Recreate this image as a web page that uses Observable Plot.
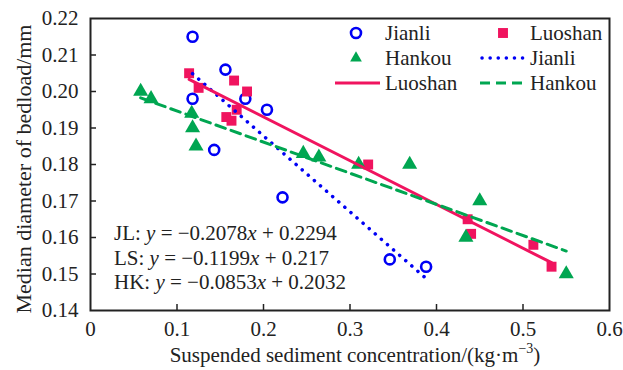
<!DOCTYPE html>
<html><head><meta charset="utf-8">
<script src="https://cdn.jsdelivr.net/npm/d3@7"></script>
<script src="https://cdn.jsdelivr.net/npm/@observablehq/plot@0.6"></script>
<style>
body{margin:0;background:#fff}
svg, svg text{font-family:"Liberation Serif","Times New Roman",serif !important}
</style>
</head><body><div id="chart"></div>
<script>
// ---- data ----
const jianliX = [0.118, 0.156, 0.118, 0.179, 0.204, 0.143, 0.222, 0.346, 0.388];
const jianliY = [0.215, 0.206, 0.198, 0.198, 0.195, 0.184, 0.171, 0.154, 0.152];
const luoshanX = [0.114, 0.125, 0.166, 0.181, 0.169, 0.157, 0.163, 0.321, 0.436, 0.440, 0.512, 0.533];
const luoshanY = [0.205, 0.201, 0.203, 0.200, 0.195, 0.193, 0.192, 0.180, 0.165, 0.161, 0.158, 0.152];
const hankouX = [0.058, 0.070, 0.117, 0.118, 0.122, 0.246, 0.264, 0.310, 0.369, 0.450, 0.434, 0.550];
const hankouY = [0.200, 0.198, 0.194, 0.190, 0.185, 0.183, 0.182, 0.180, 0.180, 0.170, 0.160, 0.150];
const fitNames = ["JL", "LS", "HK"];
const fitSlopes = [-0.2078, -0.1199, -0.0853];
const fitIntercepts = [0.2294, 0.217, 0.2032];
const fitSlopeText = ["0.2078", "0.1199", "0.0853"];
const fitInterceptText = ["0.2294", "0.217", "0.2032"];
const xTicks = [0, 0.1, 0.2, 0.3, 0.4, 0.5, 0.6];
const yTicks = [0.14, 0.15, 0.16, 0.17, 0.18, 0.19, 0.20, 0.21, 0.22];
const seriesNames = ["Jianli", "Luoshan", "Hankou"];

// ---- styles ----
const FONT = '"Liberation Serif","Times New Roman",serif';
const BLUE = "#0000F5", PINK = "#F0145F", GREEN = "#00A651";
const W = 623, H = 370, mL = 90, mR = 14, mT = 18, mB = 60;
const innerW = W - mL - mR, innerH = H - mT - mB;

const pts = (xs, ys) => xs.map((x, i) => ({x, y: ys[i]}));
const jl = pts(jianliX, jianliY), ls = pts(luoshanX, luoshanY), hk = pts(hankouX, hankouY);
const fitLine = (xs, k) => {
  const a = d3.min(xs), b = d3.max(xs);
  return [a, b].map(x => ({x, y: fitSlopes[k] * x + fitIntercepts[k]}));
};

const chart = Plot.plot({
  width: W, height: H,
  marginLeft: mL, marginRight: mR, marginTop: mT, marginBottom: mB,
  style: {fontFamily: FONT, fontSize: "21px", color: "#222"},
  x: {domain: [0, 0.6]},
  y: {domain: [0.14, 0.22]},
  marks: [
    Plot.axisX({ticks: xTicks, tickSize: 0, tickPadding: 11, label: null,
      tickFormat: d => d === 0 ? "0" : d3.format(".1f")(d), fontSize: 21}),
    Plot.axisY({ticks: yTicks, tickSize: 0, tickPadding: 12, label: null,
      tickFormat: d3.format(".2f"), fontSize: 21}),
    Plot.tickX(xTicks.slice(1, -1), {x: d => d, insetTop: innerH - 6, stroke: "#222", strokeWidth: 1.5}),
    Plot.tickY(yTicks.slice(1, -1), {y: d => d, insetRight: innerW - 6, stroke: "#222", strokeWidth: 1.5}),
    Plot.dot(jl, {x: "x", y: "y", r: 5, stroke: BLUE, strokeWidth: 2.6, fill: "none"}),
    Plot.dot(ls, {x: "x", y: "y", symbol: "square", r: 5.6, fill: PINK, stroke: "none"}),
    Plot.dot(hk, {x: "x", y: "y", symbol: "triangle", r: 5.6, fill: GREEN, stroke: "none"}),
    Plot.line(fitLine(jianliX, 0), {x: "x", y: "y", stroke: BLUE, strokeWidth: 3.5, strokeDasharray: "0.1 8", strokeLinecap: "round"}),
    Plot.line(fitLine(luoshanX, 1), {x: "x", y: "y", stroke: PINK, strokeWidth: 3}),
    Plot.line(fitLine(hankouX, 2), {x: "x", y: "y", stroke: GREEN, strokeWidth: 3, strokeDasharray: "10 6"}),
    Plot.frame({stroke: "#222", strokeWidth: 2})
  ]
});
document.getElementById("chart").appendChild(chart);

// ---- annotations added to the SVG ----
const svg = d3.select(chart).attr("font-family", FONT).style("font-family", FONT);
// axis titles
svg.append("text").attr("transform", `translate(31,${mT + innerH / 2 + 5}) rotate(-90)`)
  .attr("text-anchor", "middle").attr("font-size", 22).attr("fill", "#222")
  .text("Median diameter of bedload/mm");
const xl = svg.append("text").attr("x", 355).attr("y", 362)
  .attr("text-anchor", "middle").attr("font-size", 21).attr("fill", "#222");
xl.append("tspan").text("Suspended sediment concentration/(kg·m");
xl.append("tspan").attr("dy", -9).attr("font-size", 14).text("−3");
xl.append("tspan").attr("dy", 9).text(")");

// equations
fitNames.forEach((n, i) => {
  const t = svg.append("text").attr("x", 114).attr("y", 240 + i * 24.5)
    .attr("text-anchor", "start").attr("font-size", 21).attr("fill", "#222");
  t.append("tspan").text(n + ": ");
  t.append("tspan").attr("font-style", "italic").text("y");
  t.append("tspan").text(" = −" + fitSlopeText[i]);
  t.append("tspan").attr("font-style", "italic").text("x");
  t.append("tspan").text(" + " + fitInterceptText[i]);
});

// legend
const lg = svg.append("g").attr("font-size", 21).attr("fill", "#222").attr("text-anchor", "start");
const rows = [33, 58, 83];
const col1 = 356, col2 = 503, txt1 = 385, txt2 = 530;
lg.append("circle").attr("cx", col1).attr("cy", rows[0]).attr("r", 5).attr("fill", "none").attr("stroke", BLUE).attr("stroke-width", 2.6);
lg.append("text").attr("x", txt1).attr("y", rows[0]).attr("dy", "0.32em").text(seriesNames[0]);
lg.append("path").attr("transform", `translate(${col2},${rows[0]})`).attr("d", d3.symbol(d3.symbolSquare, 5.6 * 5.6 * Math.PI)()).attr("fill", PINK);
lg.append("text").attr("x", txt2).attr("y", rows[0]).attr("dy", "0.32em").text(seriesNames[1]);
lg.append("path").attr("transform", `translate(${col1},${rows[1]})`).attr("d", d3.symbol(d3.symbolTriangle2 || d3.symbolTriangle, 5.6 * 5.6 * Math.PI)()).attr("fill", GREEN);
lg.append("text").attr("x", txt1).attr("y", rows[1]).attr("dy", "0.32em").text(seriesNames[2]);
lg.append("line").attr("x1", 482).attr("x2", 524).attr("y1", rows[1]).attr("y2", rows[1]).attr("stroke", BLUE).attr("stroke-width", 3.5).attr("stroke-dasharray", "0.1 8").attr("stroke-linecap", "round");
lg.append("text").attr("x", txt2).attr("y", rows[1]).attr("dy", "0.32em").text(seriesNames[0]);
lg.append("line").attr("x1", 335).attr("x2", 380).attr("y1", rows[2]).attr("y2", rows[2]).attr("stroke", PINK).attr("stroke-width", 3);
lg.append("text").attr("x", txt1).attr("y", rows[2]).attr("dy", "0.32em").text(seriesNames[1]);
lg.append("line").attr("x1", 480).attr("x2", 526).attr("y1", rows[2]).attr("y2", rows[2]).attr("stroke", GREEN).attr("stroke-width", 3).attr("stroke-dasharray", "10 6");
lg.append("text").attr("x", txt2).attr("y", rows[2]).attr("dy", "0.32em").text(seriesNames[2]);
</script>
</body></html>
